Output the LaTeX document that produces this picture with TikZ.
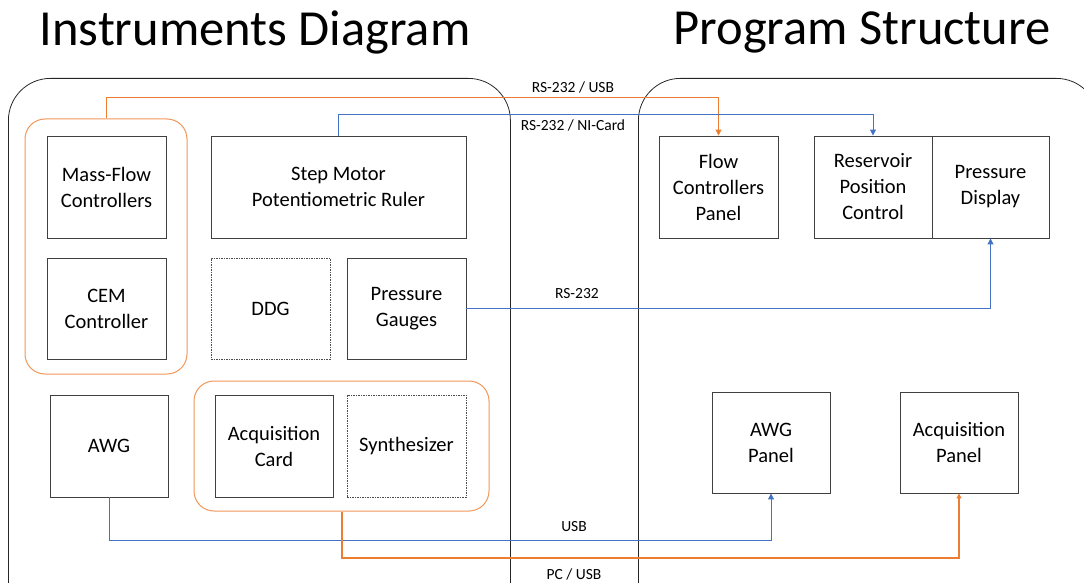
\documentclass[tikz,border=0pt]{standalone}
\usepackage{fontspec}
\setmainfont{Carlito}
\usetikzlibrary{arrows.meta}
\definecolor{cblue}{HTML}{4472C4}
\definecolor{corange}{HTML}{ED7D31}
\definecolor{cframe}{HTML}{404040}
\tikzset{
  box/.style={draw=cframe, line width=0.9pt, inner sep=0pt, align=center,
    font=\fontsize{20.5}{26}\selectfont},
  dbox/.style={box, draw=black!70, line width=0.7pt, dash pattern=on 1.5pt off 1pt},
  grp/.style={draw=corange!80, line width=1pt, rounded corners=20pt, inner sep=0pt},
  cont/.style={draw=black!85, line width=0.8pt, rounded corners=42pt, inner sep=0pt},
  bconn/.style={draw=cblue, line width=1pt, -{Triangle[length=6pt,width=6pt]}},
  oconn/.style={draw=corange, line width=1pt, -{Triangle[length=6pt,width=6pt]}},
  oconnb/.style={draw=corange, line width=2pt, -{Triangle[length=5pt,width=5pt]}},
  lbl/.style={font=\fontsize{15.5}{18}\selectfont, inner sep=0pt},
  ttl/.style={font=\fontsize{50.5}{60}\selectfont, inner sep=0pt}
}
\begin{document}
\begin{tikzpicture}[x=1pt,y=-1pt]
\useasboundingbox (0,0) rectangle (1084,583);
\clip (0,0) rectangle (1084,583);
% titles
\node[ttl] (t1) at (255,32) {Instruments Diagram};
\node[ttl] (t2) at (862,32) {Program Structure};
% containers
\node[cont, minimum width=502pt, minimum height=560pt, anchor=north west] (lc) at (8,78) {};
\node[cont, minimum width=460pt, minimum height=560pt, anchor=north west] (rc) at (638,78) {};
% groups
\node[grp, minimum width=162pt, minimum height=255pt] (grp1) at (106,246.5) {};
\node[grp, minimum width=295pt, minimum height=130pt] (grp2) at (341.5,446) {};
% left boxes
\node[box, minimum width=119pt, minimum height=102pt] (mfc) at (106.5,187.5) {Mass-Flow\\Controllers};
\node[box, minimum width=119pt, minimum height=101pt] (cem) at (106.5,308.5) {CEM\\Controller};
\node[box, minimum width=255pt, minimum height=102pt] (step) at (338.5,187) {Step Motor\\Potentiometric Ruler};
\node[dbox, minimum width=119pt, minimum height=101pt] (ddg) at (270.5,308.5) {DDG};
\node[box, minimum width=119pt, minimum height=101pt] (pg) at (406.5,308.5) {Pressure\\Gauges};
\node[box, minimum width=118pt, minimum height=102pt] (awg) at (109,446) {AWG};
\node[box, minimum width=118pt, minimum height=102pt] (acq) at (274,446) {Acquisition\\Card};
\node[dbox, minimum width=119pt, minimum height=102pt] (syn) at (406.5,446) {Synthesizer};
% right boxes
\node[box, minimum width=119pt, minimum height=102pt] (fcp) at (718.5,187) {Flow\\Controllers\\Panel};
\node[box, minimum width=118pt, minimum height=102pt] (rpc) at (873,187) {Reservoir\\Position\\Control};
\node[box, minimum width=117pt, minimum height=102pt] (pd) at (990.5,187) {Pressure\\Display};
\node[box, minimum width=118pt, minimum height=101pt] (awgp) at (771,442.5) {AWG\\Panel};
\node[box, minimum width=118pt, minimum height=101pt] (acqp) at (959,442.5) {Acquisition\\Panel};
% connectors
\draw[oconn] (grp1.north) -- (grp1.north |- 0,98) -| (fcp.north);
\draw[bconn] (step.north) -- (step.north |- 0,115) -| (rpc.north);
\draw[bconn] (pg.east) -| (pd.south);
\draw[bconn] (awg.south) -- (awg.south |- 0,540) -| (awgp.south);
\draw[oconnb] (grp2.south) -- (grp2.south |- 0,558) -| (acqp.south);
% labels
\node[lbl] (l1) at (573,87) {RS-232 / USB};
\node[lbl] (l2) at (573,125) {RS-232 / NI-Card};
\node[lbl] (l3) at (577,294) {RS-232};
\node[lbl] (l4) at (574,527) {USB};
\node[lbl] (l5) at (574,574) {PC / USB};
\end{tikzpicture}
\end{document}
